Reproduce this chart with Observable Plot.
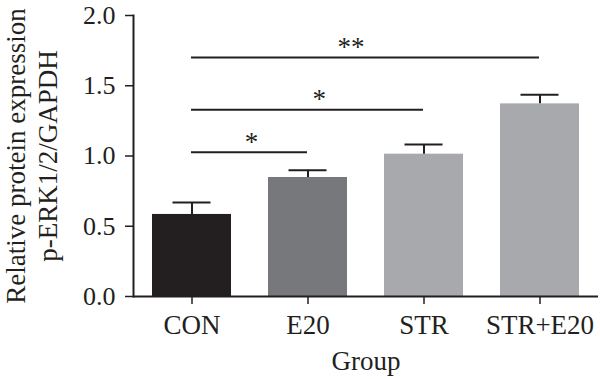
<!DOCTYPE html>
<html><head><meta charset="utf-8">
<script src="https://cdn.jsdelivr.net/npm/d3@7"></script>
<script src="https://cdn.jsdelivr.net/npm/@observablehq/plot@0.6"></script>
<style>body{margin:0;background:#fff} svg{display:block}</style>
</head><body><div id="chart"></div>
<script>
const groups = ["CON", "E20", "STR", "STR+E20"];
const means = [0.584, 0.847, 1.013, 1.371];
const errors = [0.085, 0.052, 0.069, 0.065];
const colors = ["#231f20", "#77787b", "#a7a9ac", "#a7a9ac"];
const yTicks = [0, 0.5, 1.0, 1.5, 2.0];
const bracketFrom = ["CON", "CON", "CON"];
const bracketTo = ["E20", "STR", "STR+E20"];
const bracketY = [1.027, 1.329, 1.701];
const bracketLabel = ["*", "*", "**"];
const yTitle = "Relative protein expression\np-ERK1/2/GAPDH";
const xTitle = "Group";

const data = groups.map((g, i) => ({group: g, mean: means[i], upper: means[i] + errors[i]}));
const brackets = bracketFrom.map((f, i) => ({from: f, to: bracketTo[i], y: bracketY[i], label: bracketLabel[i]}));
const starAnchor = ["CON", "E20", "E20"];
const starDx = [59.6, 11.3, 43];
const ink = "#231f20";
const font = "Liberation Serif";

const chart = Plot.plot({
  width: 600,
  height: 379,
  marginLeft: 133,
  marginRight: 2,
  marginTop: 15,
  marginBottom: 83,
  style: {fontFamily: font, color: ink, background: "#fff"},
  x: {domain: groups, paddingInner: 0.32, paddingOuter: 0.16, axis: null},
  y: {domain: [0, 2], axis: null},
  color: {domain: groups, range: colors},
  marks: [
    Plot.barY(data, {x: "group", y: "mean", fill: "group"}),
    Plot.ruleX(data, {x: "group", y1: "mean", y2: "upper", stroke: ink, strokeWidth: 2}),
    Plot.tickY(data, {x: "group", y: "upper", inset: 20.5, stroke: ink, strokeWidth: 2}),
    Plot.link(brackets, {x1: "from", x2: "to", y1: "y", y2: "y", stroke: ink, strokeWidth: 2, dx: -1}),
    ...brackets.map((b, i) => Plot.text([b], {x: () => starAnchor[i], y: "y", text: "label", dx: starDx[i], dy: -10, fontSize: 27, fill: ink})),
    Plot.axisY({ticks: yTicks, tickFormat: d => d.toFixed(1), tickSize: 8, tickPadding: 10, fontSize: 26, label: null, stroke: ink, strokeWidth: 1.5, fill: ink}),
    Plot.axisX({tickSize: 8, tickPadding: 10, fontSize: 27, label: null, stroke: ink, strokeWidth: 1.5, fill: ink}),
    Plot.ruleY([0], {stroke: ink, strokeWidth: 2}),
    Plot.frame({anchor: "left", stroke: ink, strokeWidth: 2}),
    Plot.text([yTitle], {frameAnchor: "left", textAnchor: "middle", lineAnchor: "middle", rotate: -90, dx: -102.6, fontSize: 27, lineHeight: 1.19, fill: ink, text: d => d}),
    Plot.text([xTitle], {frameAnchor: "bottom", textAnchor: "middle", lineAnchor: "middle", dy: 65, fontSize: 27, fill: ink, text: d => d})
  ]
});
document.getElementById("chart").appendChild(chart);
</script>
</body></html>
